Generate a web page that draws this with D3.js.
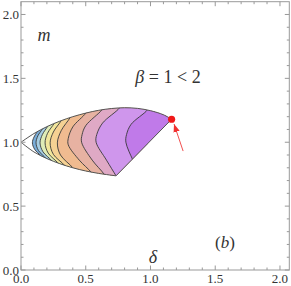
<!DOCTYPE html>
<html>
<head>
<meta charset="utf-8">
<script src="https://cdn.jsdelivr.net/npm/d3@7"></script>
<style>
body { margin: 0; background: #fff; }
</style>
</head>
<body>
<div id="viz"></div>
<script>
// boundary of the allowed region (delta, m)
var upperB = [[0,1],[0.1,1.068],[0.2,1.122],[0.3,1.165],[0.4,1.2],[0.5,1.228],[0.6,1.25],[0.7,1.264],[0.8,1.27],[0.9,1.265],[1.0,1.247],[1.1,1.215],[1.163,1.18]];
var lowerB = [[0,1],[0.1,0.924],[0.2,0.872],[0.3,0.832],[0.4,0.8],[0.5,0.775],[0.6,0.756],[0.734,0.737]];

// contour lines, left to right
var contours = [
  [[0.14,1.11],[0.125,1.083],[0.1,1.04],[0.088,0.995],[0.105,0.945],[0.15,0.896],[0.165,0.87]],
  [[0.175,1.13],[0.165,1.104],[0.13,1.05],[0.116,0.995],[0.135,0.935],[0.19,0.876],[0.205,0.85]],
  [[0.215,1.15],[0.205,1.124],[0.165,1.06],[0.147,0.995],[0.17,0.925],[0.235,0.858],[0.25,0.83]],
  [[0.265,1.17],[0.255,1.146],[0.205,1.07],[0.186,0.995],[0.21,0.915],[0.285,0.838],[0.3,0.81]],
  [[0.32,1.195],[0.31,1.169],[0.25,1.08],[0.225,0.995],[0.25,0.905],[0.335,0.82],[0.35,0.79]],
  [[0.39,1.22],[0.38,1.194],[0.31,1.09],[0.281,0.995],[0.305,0.9],[0.4,0.8],[0.415,0.77]],
  [[0.51,1.255],[0.5,1.228],[0.4,1.12],[0.365,1.03],[0.365,0.98],[0.45,0.86],[0.54,0.767],[0.555,0.74]],
  [[0.635,1.28],[0.625,1.254],[0.5,1.13],[0.472,1.06],[0.468,1.0],[0.55,0.86],[0.64,0.752],[0.655,0.72]],
  [[0.77,1.295],[0.76,1.268],[0.63,1.15],[0.585,1.06],[0.58,1.0],[0.66,0.86],[0.734,0.737],[0.75,0.71]],
  [[0.985,1.28],[0.975,1.252],[0.85,1.14],[0.815,1.06],[0.81,1.0],[0.862,0.865],[0.88,0.83]]
];
var bandColors = ["#6fa6d6","#a9cfe3","#e4efb3","#f3e599","#f5cf92","#efb98f","#e6b1a4","#dea8c8","#cd95ef","#bf77e8"];

var point = [1.163, 1.18];
var arrow = [[1.252, 0.931], [1.182, 1.142]];

var majorTicks = [0, 0.5, 1, 1.5, 2];
var tickLabels = ["0.0", "0.5", "1.0", "1.5", "2.0"];
var minorTicks = d3.range(0, 21).map(function(i) { return i / 10; });

var W = 291, H = 286;
var serif = "'Liberation Serif', 'Times New Roman', 'DejaVu Serif', serif";
var x = d3.scaleLinear().domain([0, 2.072]).range([21, 289.3]);
var y = d3.scaleLinear().domain([0, 2.1]).range([270, 1.7]);

var svg = d3.select("#viz").append("svg")
    .attr("width", W).attr("height", H)
    .attr("font-family", serif);

var line = d3.line()
    .x(function(d) { return x(d[0]); })
    .y(function(d) { return y(d[1]); })
    .curve(d3.curveCatmullRom);

var regionPath = line(upperB) + "L" + line(lowerB.slice().reverse()).slice(1) + "Z";

svg.append("clipPath").attr("id", "reg")
    .append("path").attr("d", regionPath);

var g = svg.append("g").attr("clip-path", "url(#reg)");

g.append("path").attr("d", regionPath).style("fill", "white");

// each band: contour plus a box closing to the right
g.selectAll("path.band")
    .data(contours)
    .enter()
    .append("path")
    .attr("class", "band")
    .attr("d", function(d) {
        var p = line(d);
        var last = d[d.length - 1], first = d[0];
        return p + "L" + x(1.6) + "," + y(last[1] - 0.3) + "L" + x(1.6) + "," + y(first[1] + 0.3) + "Z";
    })
    .style("fill", function(d, i) { return bandColors[i]; })
    .style("fill-opacity", 0.92);

g.selectAll("path.cline")
    .data(contours)
    .enter()
    .append("path")
    .attr("class", "cline")
    .attr("d", line)
    .style("fill", "none")
    .style("stroke", "#3a3a3a")
    .style("stroke-width", 0.9);

svg.append("path").attr("d", regionPath)
    .style("fill", "none")
    .style("stroke", "#555")
    .style("stroke-width", 1);

// frame and ticks
var frameCol = "#999";
svg.append("rect")
    .attr("x", x(0)).attr("y", y(2.1))
    .attr("width", x(2.072) - x(0)).attr("height", y(0) - y(2.1))
    .style("fill", "none").style("stroke", frameCol).style("stroke-width", 1);

function tickLen(v) { return Math.abs(v * 2 - Math.round(v * 2)) < 1e-6 ? 4.5 : 2.5; }

minorTicks.forEach(function(v) {
    var L = tickLen(v);
    svg.append("line").attr("x1", x(v)).attr("x2", x(v)).attr("y1", y(0)).attr("y2", y(0) - L).style("stroke", frameCol);
    svg.append("line").attr("x1", x(v)).attr("x2", x(v)).attr("y1", y(2.1)).attr("y2", y(2.1) + L).style("stroke", frameCol);
    svg.append("line").attr("y1", y(v)).attr("y2", y(v)).attr("x1", x(0)).attr("x2", x(0) + L).style("stroke", frameCol);
    svg.append("line").attr("y1", y(v)).attr("y2", y(v)).attr("x1", x(2.072)).attr("x2", x(2.072) - L).style("stroke", frameCol);
});

svg.selectAll("text.xl")
    .data(majorTicks)
    .enter().append("text")
    .attr("x", function(d) { return x(d); })
    .attr("y", 283)
    .attr("text-anchor", "middle")
    .style("font-size", "13px").style("fill", "#333")
    .text(function(d, i) { return tickLabels[i]; });

svg.selectAll("text.yl")
    .data(majorTicks)
    .enter().append("text")
    .attr("x", 19)
    .attr("y", function(d) { return y(d) + 4.5; })
    .attr("text-anchor", "end")
    .style("font-size", "13px").style("fill", "#333")
    .text(function(d, i) { return tickLabels[i]; });

// annotations
svg.append("text").attr("x", 44).attr("y", 41)
    .attr("text-anchor", "middle")
    .style("font-size", "18px").style("font-style", "italic").style("fill", "#333")
    .text("m");

var bt = svg.append("text").attr("x", 168).attr("y", 83)
    .attr("text-anchor", "middle")
    .style("font-size", "18px").style("fill", "#333");
bt.append("tspan").style("font-style", "italic").text("β");
bt.append("tspan").text(" = 1 < 2");

svg.append("text").attr("x", 153).attr("y", 263)
    .attr("text-anchor", "middle")
    .style("font-size", "18px").style("font-style", "italic").style("fill", "#333")
    .text("δ");

var bb = svg.append("text").attr("x", 225).attr("y", 248)
    .attr("text-anchor", "middle")
    .style("font-size", "17px").style("fill", "#333");
bb.append("tspan").text("(");
bb.append("tspan").style("font-style", "italic").text("b");
bb.append("tspan").text(")");

// arrow and red point
svg.append("defs").append("marker")
    .attr("id", "ah").attr("viewBox", "0 0 10 10")
    .attr("refX", 10).attr("refY", 5)
    .attr("markerWidth", 8).attr("markerHeight", 8)
    .attr("markerUnits", "userSpaceOnUse")
    .attr("orient", "auto")
    .append("path").attr("d", "M0,1L10,5L0,9Z").style("fill", "#f03030");

svg.append("line")
    .attr("x1", x(arrow[0][0])).attr("y1", y(arrow[0][1]))
    .attr("x2", x(arrow[1][0])).attr("y2", y(arrow[1][1]))
    .style("stroke", "#f25050").style("stroke-width", 1)
    .attr("marker-end", "url(#ah)");

svg.append("circle")
    .attr("cx", x(point[0])).attr("cy", y(point[1]))
    .attr("r", 3.6)
    .style("fill", "#f01818");
</script>
</body>
</html>
